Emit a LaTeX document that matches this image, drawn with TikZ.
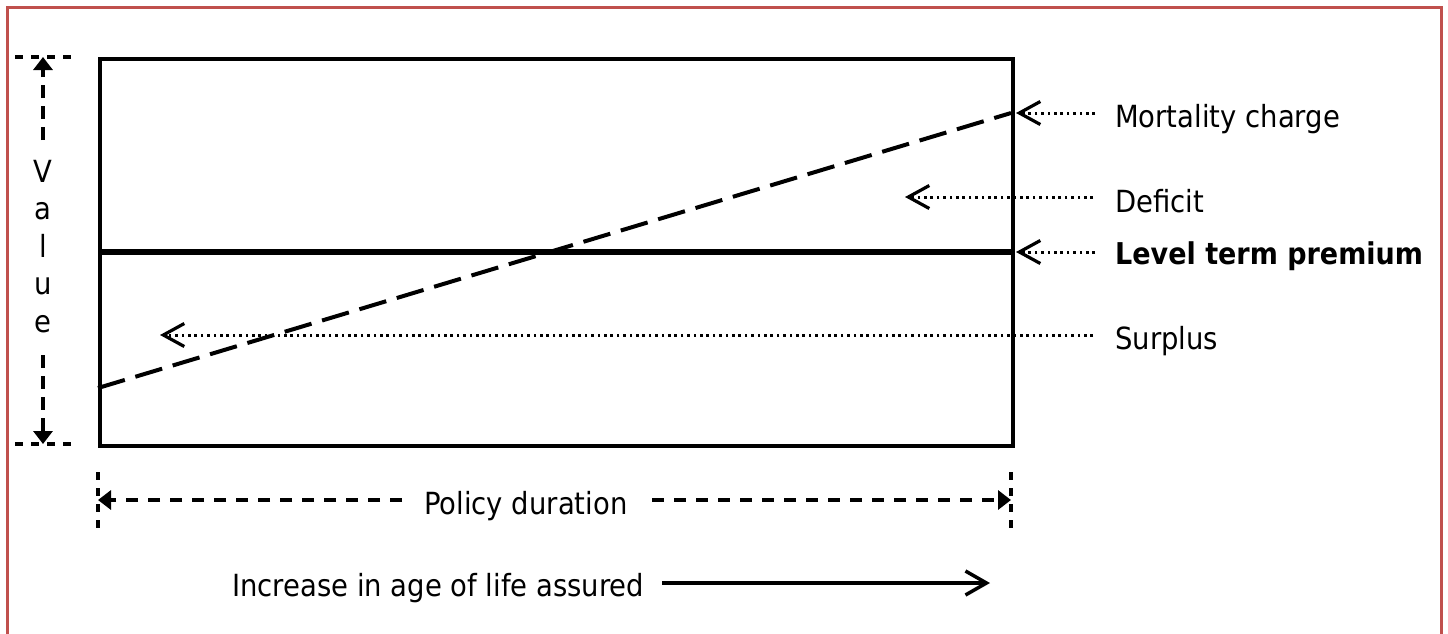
\documentclass[tikz,border=0pt]{standalone}
\usepackage{fontspec}
\setmainfont{DejaVu Sans}[FakeStretch=0.9]
\usetikzlibrary{arrows.meta}
\definecolor{framered}{HTML}{C0504D}
\begin{document}
\begin{tikzpicture}[x=1pt,y=-1pt,
  txt/.style={font=\fontsize{30.5}{37.5}\selectfont, inner sep=0pt, anchor=base west},
  frameline/.style={draw=framered, line width=3pt},
  boxline/.style={draw, line width=3.5pt, inner sep=0pt, minimum width=913pt, minimum height=387pt, anchor=north west},
  premline/.style={line width=6.5pt},
  mortline/.style={line width=4pt, dash pattern=on 28pt off 11pt},
  dotarrow/.style={line width=3pt, dash pattern=on 2.6pt off 3.8pt, -{Straight Barb[length=21pt,width=23pt,line width=3.2pt]}},
  axisarrow/.style={line width=4pt, dash pattern=on 13pt off 8pt, -{Triangle[length=13pt,width=19pt]}},
  tickline/.style={line width=3.2pt, dash pattern=on 8pt off 8pt},
  agearrow/.style={line width=3.5pt, -{Straight Barb[length=21pt,width=24pt,line width=3.5pt]}}
]
\useasboundingbox (0,0) rectangle (1448,633);
% outer frame
\draw[frameline] (7,7) rectangle (1441,660);

% main box
\node[boxline] (box) at (98,57) {};

% coordinates
\coordinate (pl) at (98,252);
\coordinate (pr) at (1011,252);
\coordinate (ml) at (98,388);
\coordinate (mr) at (1011,113);

% level premium and mortality charge
\draw[premline] (pl) -- (pr);
\draw[mortline] (ml) -- (mr);

% labels on the right
\node[txt] (mort) at (1115,127) {Mortality charge};
\node[txt] (def) at (1115,212) {Deficit};
\node[txt, font=\fontsize{30}{37.5}\selectfont\bfseries] (lev) at (1115,264) {Level term premium};
\node[txt] (sur) at (1115,349) {Surplus};

\coordinate (mortS) at (1095,113);
\coordinate (mortE) at (1016,113);
\coordinate (defS) at (1093,197);
\coordinate (defE) at (905,197);
\coordinate (levS) at (1095,252);
\coordinate (levE) at (1016,252);
\coordinate (surS) at (1093,335);
\coordinate (surE) at (160,335);

\draw[dotarrow] (mortS) -- (mortE);
\draw[dotarrow] (defS) -- (defE);
\draw[dotarrow] (levS) -- (levE);
\draw[dotarrow] (surS) -- (surE);

% Value axis
\node[txt, anchor=north, align=center] (val) at (43,160) {V\\a\\l\\u\\e};
\coordinate (vt0) at (43,140);
\coordinate (vt1) at (43,57);
\coordinate (vb0) at (43,355);
\coordinate (vb1) at (43,444);
\draw[axisarrow] (vt0) -- (vt1);
\draw[axisarrow] (vb0) -- (vb1);
\coordinate (tt0) at (15,57);
\coordinate (tt1) at (72,57);
\coordinate (tb0) at (15,444);
\coordinate (tb1) at (72,444);
\draw[tickline] (tt0) -- (tt1);
\draw[tickline] (tb0) -- (tb1);

% Policy duration
\node[txt] (pol) at (424,514) {Policy duration};
\coordinate (pd0) at (402,500);
\coordinate (pd1) at (98,500);
\coordinate (pd2) at (652,500);
\coordinate (pd3) at (1011,500);
\draw[axisarrow, dash pattern=on 12pt off 10pt] (pd0) -- (pd1);
\draw[axisarrow, dash pattern=on 12pt off 10pt] (pd2) -- (pd3);
\coordinate (lt0) at (98,472);
\coordinate (lt1) at (98,528);
\coordinate (rt0) at (1011,472);
\coordinate (rt1) at (1011,528);
\draw[tickline] (lt0) -- (lt1);
\draw[tickline] (rt0) -- (rt1);

% Increase in age
\node[txt] (age) at (232,596) {Increase in age of life assured};
\coordinate (ia0) at (662,583);
\coordinate (ia1) at (990,583);
\draw[agearrow] (ia0) -- (ia1);
\end{tikzpicture}
\end{document}
